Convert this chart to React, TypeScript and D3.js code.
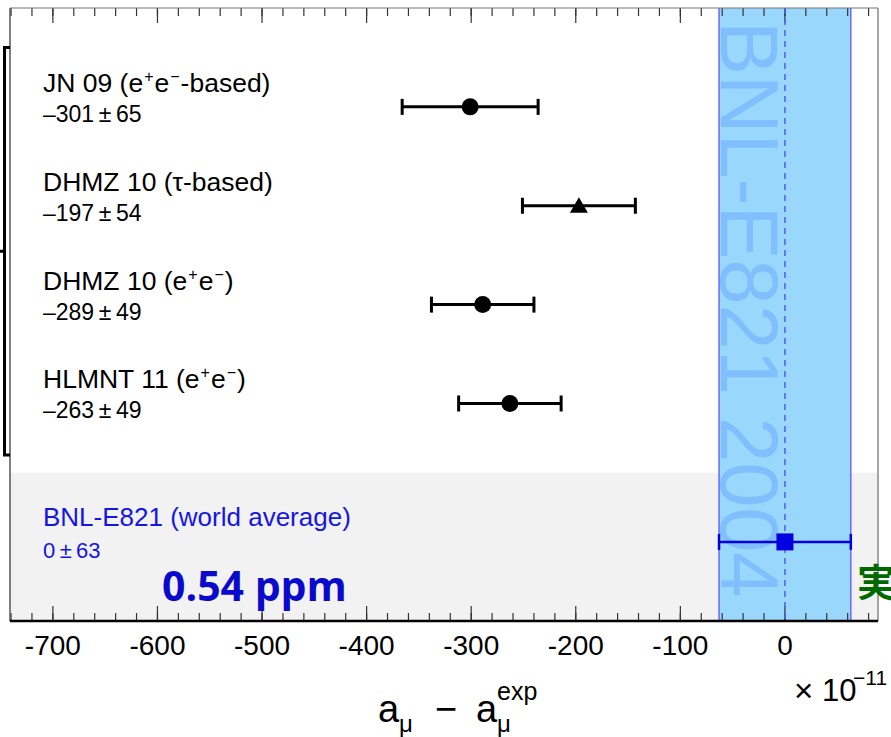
import * as d3 from "d3";

// theory predictions (a_mu - a_mu^exp, units of 1e-11)
const names = ["JN 09", "DHMZ 10", "DHMZ 10", "HLMNT 11"];
const channels = ["ee-based", "tau-based", "ee", "ee"];
const centers = [-301, -197, -289, -263];
const errors = [65, 54, 49, 49];
const markers = ["circle", "triangle", "circle", "circle"];
const rows = [0, 1, 2, 3];

// experiment
const expLabel = "BNL-E821 (world average)";
const expCenter = 0;
const expError = 63;
const expRow = 4.4;
const bandLabel = "BNL-E821 2004";
const ppmLabel = "0.54 ppm";

const majorTicks = d3.range(-700, 1, 100);
const minorTicks = d3.range(-740, 90, 20);

const W = 891;
const H = 737;
const FONT = "'Liberation Sans', Arial, Helvetica, sans-serif";
const PM = "\u2009\u00b1\u2009";

const fmt = (v: number) => (v < 0 ? "\u2013" + Math.abs(v) : String(v));

export default function App() {
  const x = d3.scaleLinear().domain([-741, 89]).range([10, 878]);
  const y = d3.scaleLinear().domain([-1, 5.2]).range([8, 621]);
  const [x0, x1] = x.range();
  const [y0, y1] = y.range();

  const label = (name: string, ch: string, px: number, py: number) => {
    const big = 26.5;
    const small = 16;
    const up = 10;
    if (ch === "tau-based") {
      return (
        <text x={px} y={py} fontSize={big} fontFamily={FONT}>
          {name + " (\u03c4-based)"}
        </text>
      );
    }
    const tail = ch === "ee-based" ? "-based)" : ")";
    return (
      <text x={px} y={py} fontSize={big} fontFamily={FONT}>
        <tspan>{name + " (e"}</tspan>
        <tspan dx={1} dy={-up} fontSize={small}>+</tspan>
        <tspan dx={1} dy={up} fontSize={big}>e</tspan>
        <tspan dx={1} dy={-up} fontSize={small}>{"\u2212"}</tspan>
        <tspan dx={1} dy={up} fontSize={big}>{tail}</tspan>
      </text>
    );
  };

  const capH = 8;

  return (
    <svg
      width={W}
      height={H}
      viewBox={`0 0 ${W} ${H}`}
      style={{ position: "absolute", left: 0, top: 0, background: "#fff" }}
    >
      {/* experiment row background */}
      <rect x={x0} y={y(3.7)} width={x1 - x0} height={y1 - y(3.7)} fill="#f2f2f2" />

      {/* experimental band */}
      <rect
        x={x(expCenter - expError)}
        y={y0}
        width={x(expCenter + expError) - x(expCenter - expError)}
        height={y1 - y0}
        fill="#9ad7fd"
      />
      <text
        transform={`translate(${x(expCenter - expError) + 2},${y0 + 13}) rotate(90)`}
        fontSize={81}
        fontFamily={FONT}
        fill="#80befd"
      >
        {bandLabel}
      </text>

      {/* ticks */}
      {minorTicks.map((t) => (
        <g key={"m" + t} stroke="#333" strokeWidth={1.2}>
          <line x1={x(t)} x2={x(t)} y1={y0} y2={y0 + 8} />
          <line x1={x(t)} x2={x(t)} y1={y1} y2={y1 - 8} />
        </g>
      ))}
      {majorTicks.map((t) => (
        <g key={"M" + t}>
          <line x1={x(t)} x2={x(t)} y1={y0} y2={y0 + 15} stroke="#333" strokeWidth={1.2} />
          <line x1={x(t)} x2={x(t)} y1={y1} y2={y1 - 15} stroke="#333" strokeWidth={1.2} />
          <text x={x(t)} y={655} textAnchor="middle" fontSize={28} fontFamily={FONT}>
            {String(t)}
          </text>
        </g>
      ))}

      {/* band edges and centre */}
      <line x1={x(expCenter)} x2={x(expCenter)} y1={y0} y2={y1} stroke="#4d5ff2" strokeWidth={1.5} strokeDasharray="6 5" />
      {[expCenter - expError, expCenter + expError].map((v) => (
        <line key={v} x1={x(v)} x2={x(v)} y1={y0} y2={y1} stroke="#6a6aff" strokeWidth={1.5} />
      ))}

      {/* frame */}
      <line x1={x0} x2={x1} y1={y0} y2={y0} stroke="#777" strokeWidth={1.2} />
      <line x1={x0} x2={x0} y1={y0} y2={y1} stroke="#555" strokeWidth={1.5} />
      <line x1={x1} x2={x1} y1={y0} y2={y1} stroke="#888" strokeWidth={1.5} />
      <line x1={x0} x2={x1} y1={y1} y2={y1} stroke="#000" strokeWidth={2.5} />

      {/* bracket grouping theory rows */}
      <path
        d={`M${x0},${y(-0.6)} H4.5 V${y(3.52)} H${x0} M4.5,${(y(-0.6) + y(3.52)) / 2} H0`}
        fill="none"
        stroke="#000"
        strokeWidth={3}
      />

      {/* theory points */}
      {rows.map((r, i) => {
        const cy = y(r);
        const lo = x(centers[i] - errors[i]);
        const hi = x(centers[i] + errors[i]);
        const cx = x(centers[i]);
        return (
          <g key={i}>
            <g stroke="#000" strokeWidth={3}>
              <line x1={lo} x2={hi} y1={cy} y2={cy} />
              <line x1={lo} x2={lo} y1={cy - capH} y2={cy + capH} />
              <line x1={hi} x2={hi} y1={cy - capH} y2={cy + capH} />
            </g>
            {markers[i] === "circle" ? (
              <circle cx={cx} cy={cy} r={8.5} fill="#000" />
            ) : (
              <path d={`M${cx},${cy - 8.5} L${cx + 9},${cy + 7} L${cx - 9},${cy + 7} Z`} fill="#000" />
            )}
            {label(names[i], channels[i], 43, cy - 15)}
            <text x={43} y={cy + 15} fontSize={23} fontFamily={FONT}>
              {fmt(centers[i]) + PM + errors[i]}
            </text>
          </g>
        );
      })}

      {/* experiment point */}
      {(() => {
        const cy = y(expRow);
        const lo = x(expCenter - expError);
        const hi = x(expCenter + expError);
        const cx = x(expCenter);
        return (
          <g>
            <g stroke="#0000e0" strokeWidth={2.5}>
              <line x1={lo} x2={hi} y1={cy} y2={cy} />
              <line x1={lo} x2={lo} y1={cy - capH} y2={cy + capH} />
              <line x1={hi} x2={hi} y1={cy - capH} y2={cy + capH} />
            </g>
            <rect x={cx - 8.5} y={cy - 8.5} width={17} height={17} fill="#0000e0" />
            <text x={43} y={cy - 16} fontSize={26} fontFamily={FONT} fill="#1515e6">
              {expLabel}
            </text>
            <text x={43} y={cy + 16} fontSize={22} fontFamily={FONT} fill="#1515e6">
              {fmt(expCenter) + PM + expError}
            </text>
          </g>
        );
      })()}

      <text x={162} y={601} fontSize={41} fontWeight={700} fontFamily="'Open Sans', sans-serif" fill="#0a0acc">
        {ppmLabel}
      </text>
      <text x={857} y={596} fontSize={38} fontWeight={700} fontFamily="'Noto Sans CJK JP', sans-serif" fill="#006a00">
        実
      </text>

      {/* axis title */}
      <g fontFamily={FONT} fill="#000">
        <text x={378} y={722} fontSize={38}>a</text>
        <text x={399} y={732} fontSize={24}>μ</text>
        <text x={435} y={722} fontSize={38}>{"\u2212"}</text>
        <text x={476} y={722} fontSize={38}>a</text>
        <text x={497} y={732} fontSize={24}>μ</text>
        <text x={497} y={700} fontSize={25}>exp</text>
        <text x={794} y={702} fontSize={33}>×</text>
        <text x={822} y={701} fontSize={31}>10</text>
        <text x={853} y={685} fontSize={21}>{"\u221211"}</text>
      </g>
    </svg>
  );
}
